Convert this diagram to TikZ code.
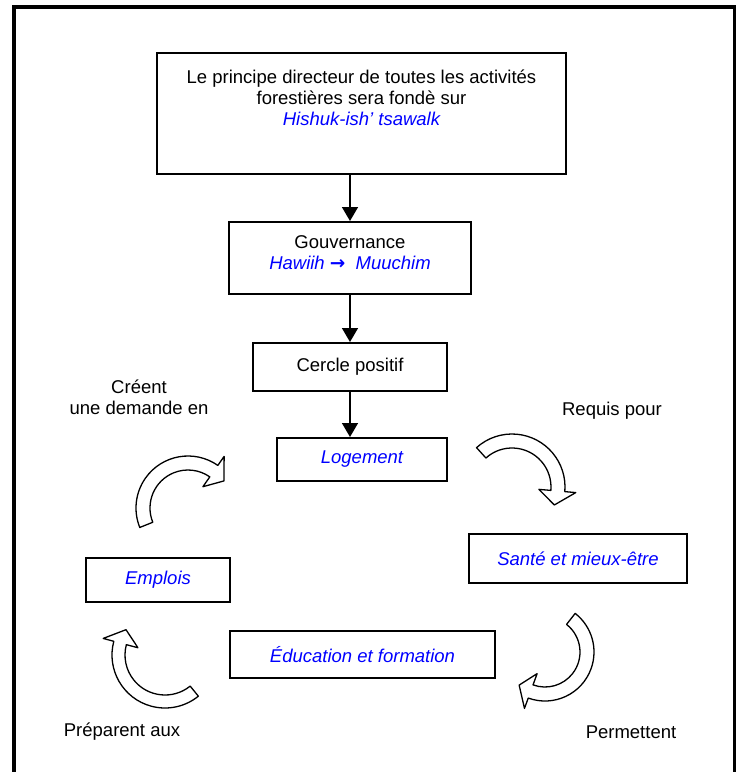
\documentclass[tikz,border=0pt]{standalone}
\usepackage{fontspec}
\setmainfont{Liberation Sans}
\newfontfamily\arrowfont{DejaVu Sans}
\usetikzlibrary{arrows.meta,calc,positioning}
\tikzset{%
	box/.style     = {draw, rectangle, line width=2pt, inner sep=0pt, align=center}, % Box
	note/.style    = {align=center, inner sep=0pt}, % Free text
	band/.style    = {draw, line width=1.3pt, fill=white, line join=round}, % Curved block arrow
}
\newcommand{\nuu}[1]{\textcolor{blue}{\itshape #1}}
% centre, start angle, end angle, inner radius, outer radius
\newcommand{\bentarrow}[5]{%
	\draw[band] ($(#1)+(#2:#4)$) arc[start angle=#2, end angle=#3, radius=#4]
		-- ($(#1)+(#3:{#4-12})$) -- ($(#1)+({#3+18}:{(#4+#5)/2})$)
		-- ($(#1)+(#3:{#5+11})$) -- ($(#1)+(#3:#5)$)
		arc[start angle=#3, end angle=#2, radius=#5] -- cycle;
}

\begin{document}
\begin{tikzpicture}[x=1pt,y=-1pt,>={Triangle[length=14pt,width=16pt]},font=\fontsize{18.5}{21}\selectfont]
		\useasboundingbox (0,0) rectangle (736,772);
		\draw[line width=4pt] (13.5,772) -- (13.5,7) -- (734.5,7) -- (734.5,772);
		
		\node [box, minimum width=409pt, minimum height=121pt] (principe) at (361.5,113.5) {};
		\node [note, below=18pt of principe.north] (principetxt) {Le principe directeur de toutes les activités\\forestières sera fondè sur\\\nuu{Hishuk-ish’ tsawalk}};
		\node [box, minimum width=242pt, minimum height=72pt] (gouv) at (350,258) {Gouvernance\\\nuu{Hawiih {\arrowfont\upshape\bfseries →} \ Muuchim}\\[-11pt]};
		\node [box, minimum width=194pt, minimum height=48pt] (cercle) at (350,367) {Cercle positif};
		\node [box, minimum width=170pt, minimum height=43pt] (logement) at (362,459.5) {\nuu{Logement}};
		\node [box, minimum width=218pt, minimum height=49pt] (sante) at (578,558.5) {\nuu{Santé et mieux-être}};
		\node [box, minimum width=265pt, minimum height=47pt] (educ) at (362.5,654.5) {\nuu{Éducation et formation}};
		\node [box, minimum width=144pt, minimum height=44pt] (emplois) at (158,580) {\nuu{Emplois}};
		
		\node [note] (creent) at (139,397) {Créent\\une demande en};
		\node [note] (requis) at (612,411) {Requis pour};
		\node [note] (permettent) at (631,732) {Permettent};
		\node [note] (preparent) at (122,732) {Préparent aux};
		
		\draw[->, line width=1.5pt] (principe.south -| gouv.north) -- (gouv.north);
		\draw[->, line width=1.5pt] (gouv) -- (cercle);
		\draw[->, line width=1.5pt] (cercle) -- (cercle.south |- logement.north);
		
		\bentarrow{188,508}{158}{305}{38}{52}
		\bentarrow{512,487}{228}{365}{39}{53}
		\bentarrow{545,652}{308}{470}{35}{49}
		\bentarrow{165,655}{51}{195}{40}{53}
	\end{tikzpicture}
\end{document}
